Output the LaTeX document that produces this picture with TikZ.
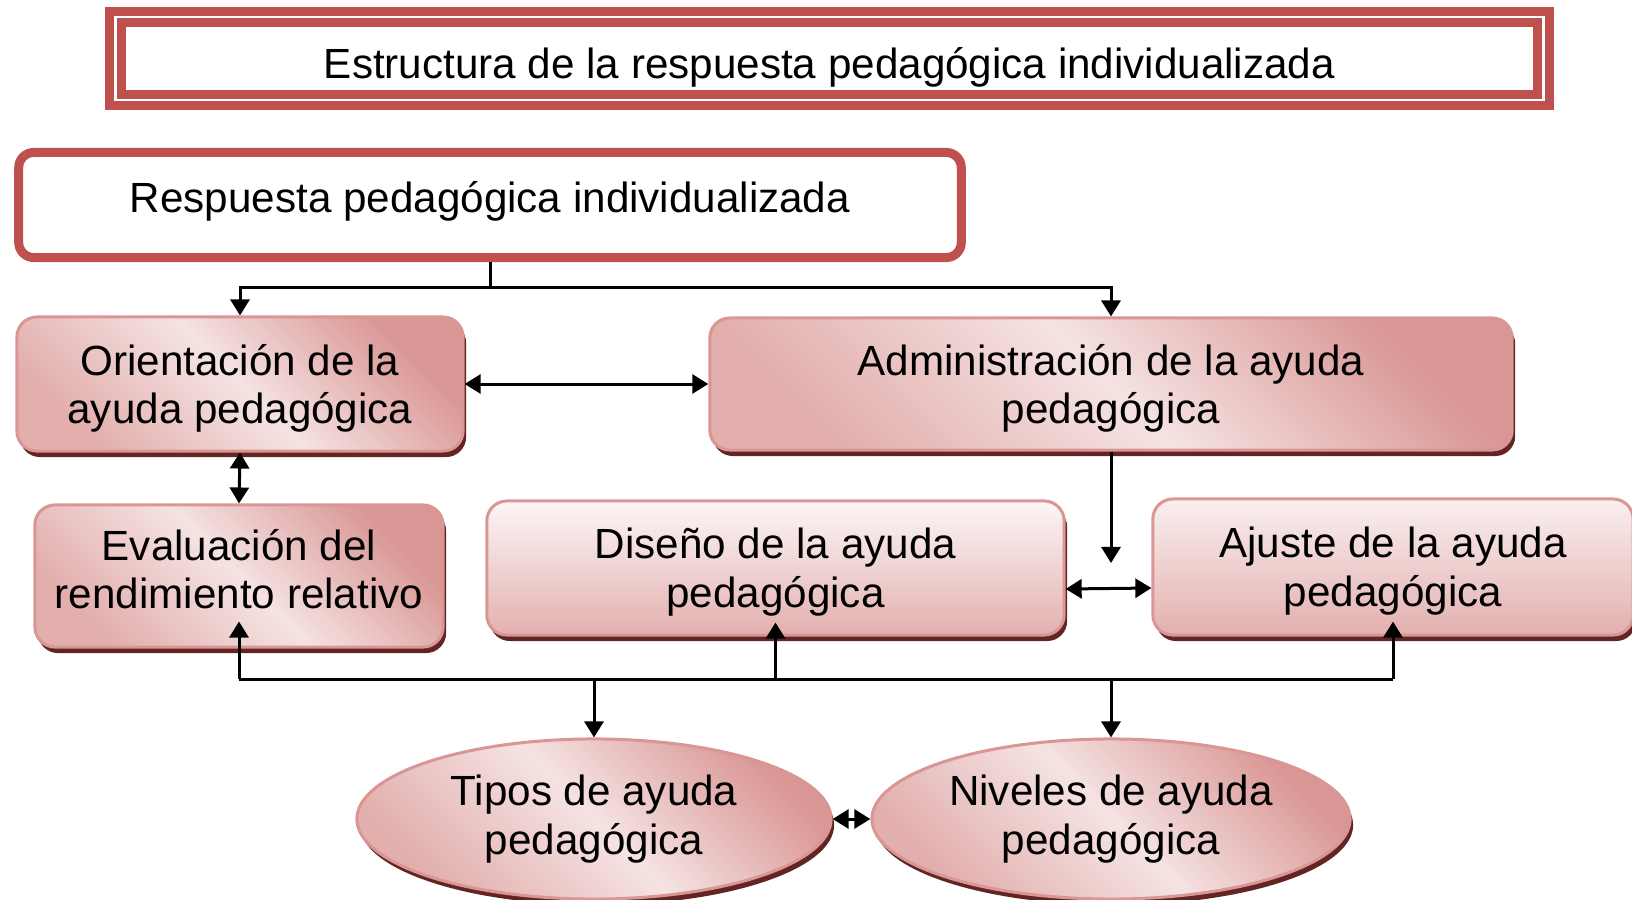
\documentclass[tikz,border=0pt]{standalone}
\usepackage{fontspec}
\setmainfont{Liberation Sans}
\usepackage{tikz}
\usetikzlibrary{arrows.meta}
\usetikzlibrary{shapes.geometric}
\usetikzlibrary{shadows}
\definecolor{rojo}{HTML}{C0504D}
\definecolor{rosa}{HTML}{D99694}
\definecolor{rosaclaro}{HTML}{F2DCDB}
\definecolor{granate}{HTML}{632523}

\begin{document}
\begin{tikzpicture}[x=0.01cm,y=-0.01cm,
  font=\fontsize{12}{13.9}\selectfont,
  linea/.style={line width=0.3mm},
  flecha/.style={linea,-{Triangle[length=1.6mm,width=1.9mm]}},
  flechas/.style={linea,{Triangle[length=1.6mm,width=1.9mm]}-{Triangle[length=1.6mm,width=1.9mm]}},
  sombra/.style={drop shadow={shadow xshift=0.3mm,shadow yshift=-0.6mm,fill=granate,opacity=1}},
  caja/.style={rectangle,rounded corners=0.2cm,draw=rosa,line width=0.3mm,align=center,
    top color=rosa,bottom color=rosa!65!rosaclaro,middle color=rosaclaro!80!white,shading angle=-45,
    text depth=0pt,sombra},
  elipse/.style={ellipse,draw=rosa,line width=0.3mm,align=center,inner sep=0pt,
    top color=rosa,bottom color=rosa!65!rosaclaro,middle color=rosaclaro!80!white,shading angle=-45,sombra},
  titulo/.style={rectangle,draw=rojo,double=white,line width=0.9mm,double distance=0.25mm,
    fill=white,minimum width=14.27cm,minimum height=0.83cm,text height=0.39cm,text depth=0pt},
  raiz/.style={rectangle,rounded corners=0.15cm,draw=rojo,line width=0.9mm,fill=white,
    minimum width=9.42cm,minimum height=1.05cm,text depth=0.17cm}]
\useasboundingbox (0,0) rectangle (1632,900);

% encabezado
\node[titulo] (titulo) at (829.5,58.5) {Estructura de la respuesta pedagógica individualizada};
\node[raiz] (resp) at (490,205) {Respuesta pedagógica individualizada};

% cajas
\node[caja,minimum width=4.46cm,minimum height=1.34cm] (orient) at (240,384) {Orientación de la\\ayuda pedagógica};
\node[caja,minimum width=8.02cm,minimum height=1.32cm] (admin) at (1111,384) {Administración de la ayuda\\pedagógica};
\node[caja,text depth=0.14cm,minimum width=4.08cm,minimum height=1.42cm] (evalua) at (239,576) {Evaluación del\\rendimiento relativo};
\node[caja,top color=rosaclaro!25!white,bottom color=rosa!75!white,minimum width=5.77cm,minimum height=1.34cm] (diseno) at (775.5,568) {Diseño de la ayuda\\pedagógica};
\node[caja,top color=rosaclaro!45!white,bottom color=rosa!75!white,minimum width=4.8cm,minimum height=1.36cm] (ajuste) at (1393,567) {Ajuste de la ayuda\\pedagógica};
\node[elipse,minimum width=4.74cm,minimum height=1.6cm] (tipos) at (594,819) {Tipos de ayuda\\pedagógica};
\node[elipse,minimum width=4.78cm,minimum height=1.6cm] (niveles) at (1111,819) {Niveles de ayuda\\pedagógica};

\coordinate (libre) at (1111,563);
\coordinate (bus) at (0,679);

% conexiones
\draw[flecha] (resp.south) -- ++(0,25) -| (orient.north);
\draw[flecha] (resp.south) -- ++(0,25) -| (admin.north);
\draw[flechas] (orient.east) -- (admin.west);
\draw[flechas] (orient.south) -- (evalua.north);
\draw[flecha] (admin.south) -- (libre);
\draw[flechas] ([yshift=-2.1mm]diseno.east) -- ([yshift=-2.1mm]ajuste.west);
\draw[linea] (evalua.south |- bus) -- (ajuste.south |- bus);
\draw[flecha] (evalua.south |- bus) -- ([yshift=2.7mm]evalua.south);
\draw[flecha] (diseno.south |- bus) -- ([yshift=1.4mm]diseno.south);
\draw[flecha] (ajuste.south |- bus) -- ([yshift=1.5mm]ajuste.south);
\draw[flecha] (tipos.north |- bus) -- (tipos.north);
\draw[flecha] (niveles.north |- bus) -- (niveles.north);
\draw[flechas] (tipos.east) -- (niveles.west);
\end{tikzpicture}
\end{document}
